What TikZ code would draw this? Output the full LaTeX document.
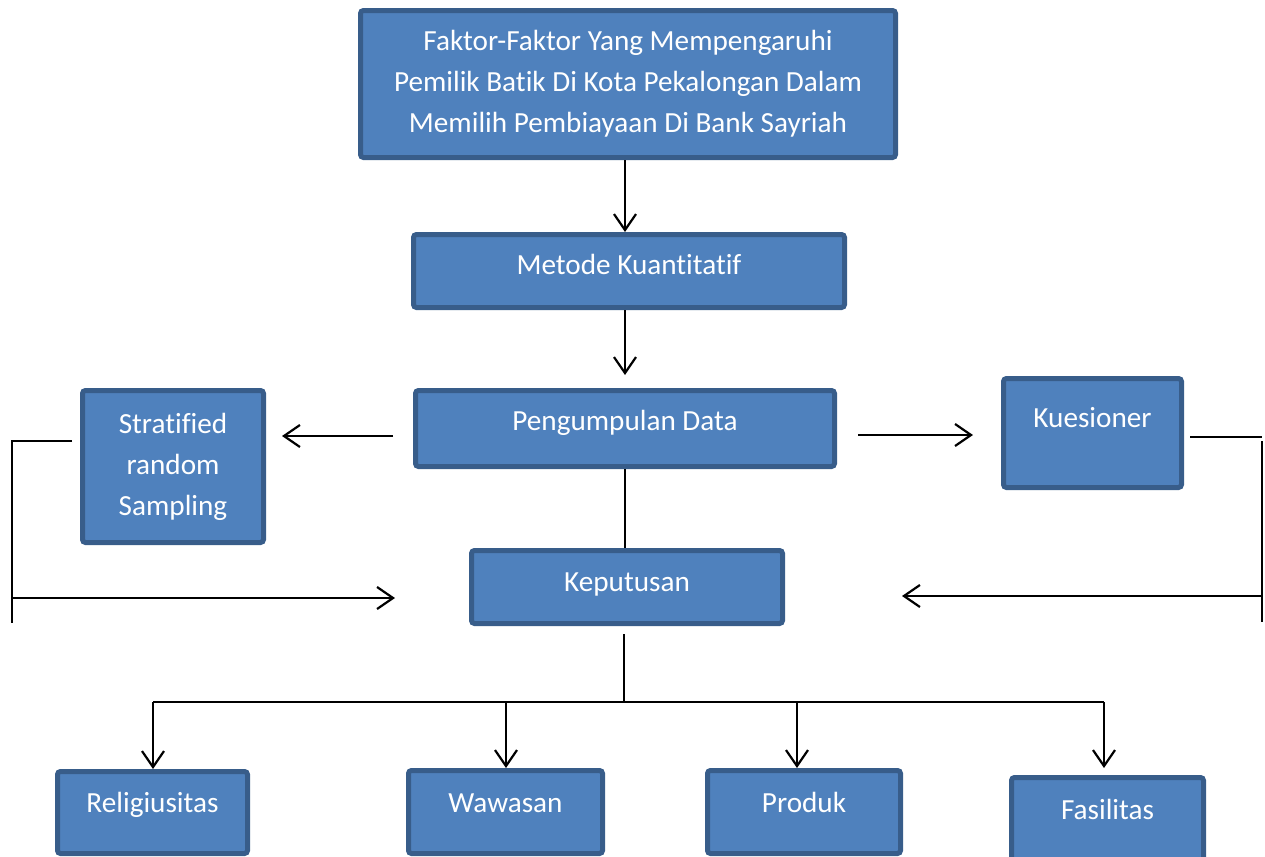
\documentclass[tikz,border=0pt]{standalone}
\usepackage{fontspec}
\setmainfont{Carlito}[Ligatures=NoCommon]
\usetikzlibrary{arrows.meta}

\definecolor{isiBiru}{RGB}{79,129,189}
\definecolor{tepiBiru}{RGB}{56,93,138}

\begin{document}
\begin{tikzpicture}[x=0.5pt, y=-0.5pt,
  kotak/.style={draw=tepiBiru, fill=isiBiru, line width=2.5pt, rounded corners=1.5pt,
    text=white, align=center, inner sep=0pt, font={\fontsize{14.6}{20.5}\selectfont}},
  satubaris/.style={text height=10pt, text depth=#1},
  garis/.style={line width=1.1pt},
  panah/.style={garis, -{Straight Barb[length=8pt, width=11pt]}}]

\useasboundingbox (0,0) rectangle (1265,857);
\clip (0,0) rectangle (1265,857);

\node[kotak, minimum width=267.5pt, minimum height=73.5pt] (faktor) at (628,84)
  {Faktor-Faktor Yang Mempengaruhi\\ Pemilik Batik Di Kota Pekalongan Dalam\\ Memilih Pembiayaan Di Bank Sayriah};

\node[kotak, satubaris=6.5pt, minimum width=215.5pt, minimum height=36.5pt] (metode) at (629,271) {Metode Kuantitatif};

\node[kotak, satubaris=8pt, minimum width=209.5pt, minimum height=38pt] (data) at (625,428.5) {Pengumpulan Data};

\node[kotak, minimum width=90.5pt, minimum height=76pt] (strat) at (173,466.5) {Stratified\\ random\\ Sampling};

\node[kotak, satubaris=16pt, minimum width=89pt, minimum height=54.5pt] (kues) at (1092.5,433) {Kuesioner};

\node[kotak, satubaris=5.5pt, minimum width=155.5pt, minimum height=36.5pt] (keput) at (627,587) {Keputusan};

\node[kotak, satubaris=10pt, minimum width=95pt, minimum height=41pt] (relig) at (152.5,812.5) {Religiusitas};
\node[kotak, satubaris=10pt, minimum width=97pt, minimum height=41.5pt] (wawas) at (505.5,812) {Wawasan};
\node[kotak, satubaris=10pt, minimum width=96.5pt, minimum height=41.5pt] (produk) at (804,812) {Produk};
\node[kotak, satubaris=10pt, minimum width=96pt, minimum height=41.5pt] (fasil) at (1107.5,819) {Fasilitas};

% alur tengah
\coordinate (poros) at (625,0);
\draw[panah] (poros |- faktor.south) -- (poros |- metode.north);
\draw[panah, shorten >=6.5pt] (poros |- metode.south) -- (poros |- data.north);
\draw[garis] (poros |- data.south) -- (poros |- keput.north);

% kiri dan kanan
\coordinate (kiriAwal) at (393,436);
\coordinate (kananAwal) at (858,435);
\draw[panah, shorten >=8pt] (kiriAwal) -- (kiriAwal -| strat.east);
\draw[panah, shorten >=14pt] (kananAwal) -- (kananAwal -| kues.west);

\coordinate (sudutKiri) at (12,441);
\coordinate (masukKiri) at (395,598);
\draw[garis] ([xshift=-4pt]strat.west |- sudutKiri) -- (sudutKiri) -- ++(0,182);
\draw[panah] (sudutKiri |- masukKiri) -- (masukKiri);

\coordinate (sudutKanan) at (1262,437);
\coordinate (masukKanan) at (902,596);
\draw[garis] ([xshift=3pt]kues.east |- sudutKanan) -- (sudutKanan);
\draw[garis] ([yshift=-2pt]sudutKanan) -- ++(0,181);
\draw[panah] (sudutKanan |- masukKanan) -- (masukKanan);

% cabang bawah
\coordinate (cabang) at (624,702);
\draw[garis, shorten <=4pt] (keput.south -| cabang) -- (cabang);
\draw[garis] ([xshift=0.25pt]relig.north |- cabang) -- ([xshift=-1.75pt]fasil.north |- cabang);
\foreach \kotakNama/\geser/\jarak in {relig/0.25pt/0pt, wawas/0.25pt/0pt, produk/-3.5pt/0pt, fasil/-1.75pt/3.5pt}
  \draw[panah, shorten >=\jarak] ([xshift=\geser]\kotakNama.north |- cabang) -- ([xshift=\geser]\kotakNama.north);

\end{tikzpicture}
\end{document}
